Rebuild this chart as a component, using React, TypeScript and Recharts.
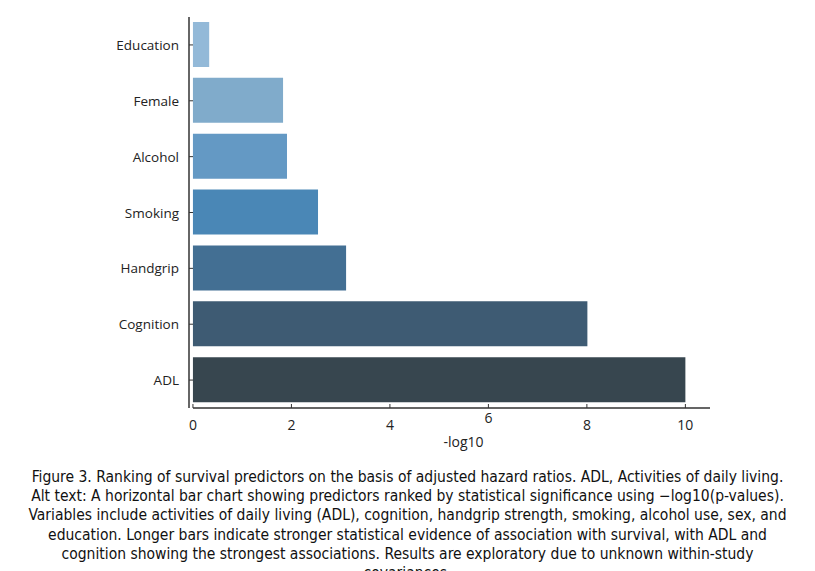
import { BarChart, Bar, XAxis, YAxis, Cell } from "recharts";

const predictors = ["Education", "Female", "Alcohol", "Smoking", "Handgrip", "Cognition", "ADL"];
const negLog10 = [0.33, 1.83, 1.91, 2.54, 3.11, 8.01, 10.0];
const barColors = ["#93b9d8", "#80abcb", "#6499c4", "#4a87b6", "#436f93", "#3e5b73", "#37464f"];
const xTicks = [0, 2, 4, 6, 8, 10];

const captionLines = [
  "Figure 3. Ranking of survival predictors on the basis of adjusted hazard ratios. ADL, Activities of daily living.",
  "Alt text: A horizontal bar chart showing predictors ranked by statistical significance using \u2212log10(p-values).",
  "Variables include activities of daily living (ADL), cognition, handgrip strength, smoking, alcohol use, sex, and",
  "education. Longer bars indicate stronger statistical evidence of association with survival, with ADL and",
  "cognition showing the strongest associations. Results are exploratory due to unknown within-study",
  "covariances.",
];

const data = predictors.map((name, i) => ({ name, value: negLog10[i] }));

const FONT = "'Open Sans', 'Noto Sans', sans-serif";
const AXIS = "#333";

// x ticks point inward (up); the "6" label sits a little higher in the original
const XTick = (props: any) => {
  const { x, y, payload } = props;
  const raised = payload.value === 6;
  return (
    <g>
      <line x1={x} x2={x} y1={y} y2={y - 4} stroke={AXIS} strokeWidth={1} />
      <text x={x} y={y + (raised ? 15 : 22)} textAnchor="middle" fontSize={14} fontFamily={FONT} fill="#222">
        {payload.value}
      </text>
    </g>
  );
};

const YTick = (props: any) => {
  const { x, y, payload } = props;
  return (
    <g>
      <line x1={x} x2={x + 4} y1={y} y2={y} stroke={AXIS} strokeWidth={1} />
      <text x={x - 10} y={y + 5} textAnchor="end" fontSize={13.5} fontFamily={FONT} fill="#222">
        {payload.value}
      </text>
    </g>
  );
};

export default function App() {
  return (
    <div style={{ position: "absolute", left: 0, top: 0, width: 815, height: 571, background: "#fff", overflow: "hidden" }}>
      <BarChart
        width={815}
        height={460}
        data={data}
        layout="vertical"
        margin={{ top: 17, right: 105, bottom: 0, left: 0 }}
      >
        <XAxis
          type="number"
          domain={[-0.08, 10.5]}
          ticks={xTicks}
          allowDataOverflow
          height={52}
          tickSize={0}
          tickMargin={0}
          tickLine={false}
          tick={<XTick />}
          axisLine={{ stroke: AXIS, strokeWidth: 1.5, strokeDasharray: "0 4 2000" }}
          label={{ value: "-log10", position: "insideBottom", offset: 13, dx: 14, fontSize: 14, fontFamily: FONT, fill: "#222" }}
        />
        <YAxis
          type="category"
          dataKey="name"
          width={189}
          tickSize={0}
          tickMargin={0}
          tickLine={false}
          tick={<YTick />}
          axisLine={{ stroke: AXIS, strokeWidth: 1.5 }}
        />
        <Bar dataKey="value" barSize={45} isAnimationActive={false}>
          {data.map((d, i) => (
            <Cell key={d.name} fill={barColors[i]} />
          ))}
        </Bar>
      </BarChart>
      <div
        style={{
          position: "absolute",
          left: 0,
          top: 468,
          width: 815,
          textAlign: "center",
          fontFamily: "'DejaVu Sans', Verdana, sans-serif",
          fontStretch: "condensed",
          fontSize: 15.5,
          lineHeight: "19.2px",
          color: "#111",
        }}
      >
        {captionLines.map((l) => (
          <div key={l} style={{ whiteSpace: "nowrap" }}>{l}</div>
        ))}
      </div>
    </div>
  );
}
